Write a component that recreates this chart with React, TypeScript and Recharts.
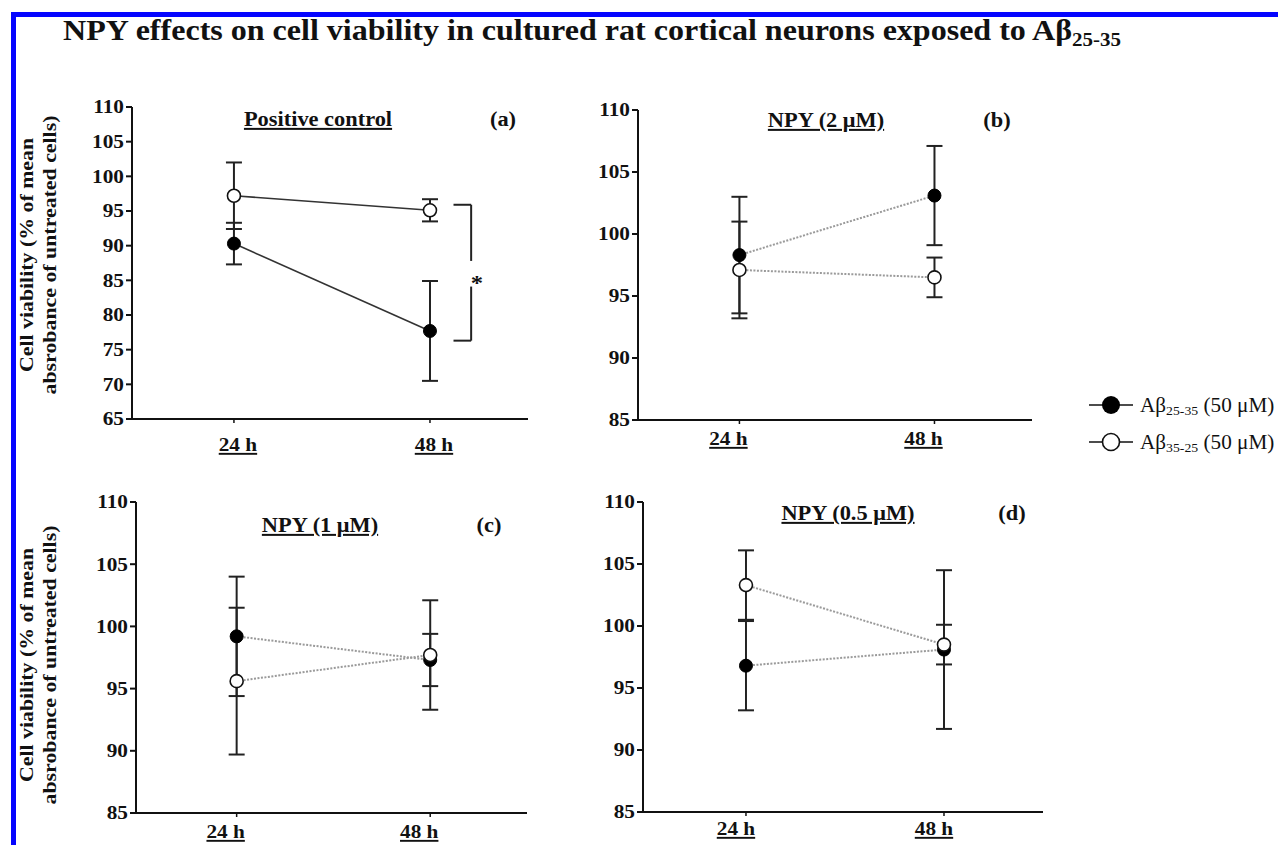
import React from "react"
import { LineChart, Line, XAxis, YAxis, ErrorBar, ReferenceLine } from "recharts"

// time points on the x axis
const TIMES = ["24 h", "48 h"]
const T_POS = [0, 1]

// (a) positive control
const POS_AB2535 = [90.3, 77.7]
const POS_AB2535_ERR = [3.0, 7.2]
const POS_AB3525 = [97.2, 95.1]
const POS_AB3525_ERR = [4.8, 1.6]

// (b) NPY 2 uM
const NPY2_AB2535 = [98.3, 103.1]
const NPY2_AB2535_ERR = [4.7, 4.0]
const NPY2_AB3525 = [97.1, 96.5]
const NPY2_AB3525_ERR = [3.9, 1.6]

// (c) NPY 1 uM
const NPY1_AB2535 = [99.2, 97.3]
const NPY1_AB2535_ERR = [4.8, 2.1]
const NPY1_AB3525 = [95.6, 97.7]
const NPY1_AB3525_ERR = [5.9, 4.4]

// (d) NPY 0.5 uM
const NPY05_AB2535 = [96.8, 98.1]
const NPY05_AB2535_ERR = [3.6, 6.4]
const NPY05_AB3525 = [103.3, 98.5]
const NPY05_AB3525_ERR = [2.8, 1.6]

const Y_TICKS_POS = [65, 70, 75, 80, 85, 90, 95, 100, 105, 110]
const Y_TICKS_NPY = [85, 90, 95, 100, 105, 110]

// significance bracket in (a), between the two 48 h means
const SIG_X = [1.12, 1.21]
const SIG_Y = [95.9, 76.3]
const SIG_GAP = [87.8, 84.1]

const FONT = '"Liberation Serif", "Times New Roman", serif'
const STRETCH = 1.12
const X_DOMAIN: [number, number] = [-0.52, 1.5]

function buildRows(filled: number[], filledErr: number[], open: number[], openErr: number[]) {
  return T_POS.map((t, i) => ({
    t,
    filled: filled[i],
    filledErr: filledErr[i],
    open: open[i],
    openErr: openErr[i],
  }))
}

function TimeTick(props: any) {
  const { x, y, payload, dx, dy } = props
  const label = TIMES[T_POS.indexOf(payload.value)]
  return (
    <text
      transform={`translate(${x + dx},${y + dy}) scale(${STRETCH},1)`}
      textAnchor="middle"
      fontFamily={FONT}
      fontWeight="bold"
      fontSize={19}
      fill="#111"
      textDecoration="underline"
    >
      {label}
    </text>
  )
}

function ValueTick(props: any) {
  const { x, y, payload } = props
  return (
    <text
      transform={`translate(${x},${y}) scale(${STRETCH},1)`}
      textAnchor="end"
      dy="0.34em"
      fontFamily={FONT}
      fontWeight="bold"
      fontSize={19}
      fill="#111"
    >
      {payload.value}
    </text>
  )
}

type Box = { left: number; top: number; w: number; h: number }

type PanelProps = {
  box: Box
  yDomain: [number, number]
  yTicks: number[]
  rows: ReturnType<typeof buildRows>
  solid: boolean
  labelDx: number
  labelDy: number
  children?: React.ReactNode
}

function Panel({ box, yDomain, yTicks, rows, solid, labelDx, labelDy, children }: PanelProps) {
  const lineStroke = solid ? "#333" : "#9a9a9a"
  const dash = solid ? undefined : "2 1.5"
  return (
    <div style={{ position: "absolute", left: box.left - 60, top: box.top - 20 }}>
      <LineChart
        width={box.w + 70}
        height={box.h + 70}
        data={rows}
        margin={{ top: 20, right: 10, bottom: 10, left: 0 }}
      >
        <XAxis
          dataKey="t"
          type="number"
          domain={X_DOMAIN}
          ticks={T_POS}
          interval={0}
          allowDataOverflow
          height={40}
          axisLine={{ stroke: "#111", strokeWidth: 2 }}
          tickLine={{ stroke: "#111", strokeWidth: 1.5 }}
          tickSize={4}
          tick={(p: any) => <TimeTick {...p} dx={labelDx} dy={labelDy} />}
        />
        <YAxis
          type="number"
          domain={yDomain}
          ticks={yTicks}
          interval={0}
          allowDataOverflow
          width={60}
          axisLine={{ stroke: "#111", strokeWidth: 2 }}
          tickLine={{ stroke: "#111", strokeWidth: 2 }}
          tickSize={6}
          tick={(p: any) => <ValueTick {...p} />}
        />
        {children}
        <Line
          dataKey="filled"
          type="linear"
          stroke={lineStroke}
          strokeWidth={solid ? 1.6 : 2}
          strokeDasharray={dash}
          dot={{ r: 6.5, fill: "#000", stroke: "#000", strokeWidth: 1, strokeDasharray: "none" }}
          activeDot={false}
          isAnimationActive={false}
        >
          <ErrorBar dataKey="filledErr" direction="y" width={8} stroke="#222" strokeWidth={2} />
        </Line>
        <Line
          dataKey="open"
          type="linear"
          stroke={lineStroke}
          strokeWidth={solid ? 1.6 : 2}
          strokeDasharray={dash}
          dot={{ r: 6.5, fill: "#fff", stroke: "#111", strokeWidth: 1.6, strokeDasharray: "none" }}
          activeDot={false}
          isAnimationActive={false}
        >
          <ErrorBar dataKey="openErr" direction="y" width={8} stroke="#222" strokeWidth={2} />
        </Line>
      </LineChart>
    </div>
  )
}

function Caption({ x, y, size = 20, bold = true, underline = false, children }: any) {
  return (
    <text
      transform={`translate(${x},${y}) scale(${STRETCH},1)`}
      textAnchor="middle"
      fontFamily={FONT}
      fontWeight={bold ? "bold" : "normal"}
      fontSize={size}
      fill="#111"
      textDecoration={underline ? "underline" : undefined}
    >
      {children}
    </text>
  )
}

function YLabel({ cy }: { cy: number }) {
  const lines = ["Cell viability (% of mean", "absrobance of untreated cells)"]
  const xs = [27, 50]
  return (
    <>
      {lines.map((l, i) => (
        <text
          key={l}
          transform={`translate(${xs[i]},${cy}) rotate(-90) scale(1.15,1)`}
          textAnchor="middle"
          dy="0.34em"
          fontFamily={FONT}
          fontWeight="bold"
          fontSize={19}
          fill="#111"
        >
          {l}
        </text>
      ))}
    </>
  )
}

function LegendRow({ y, filled, sub }: { y: number; filled: boolean; sub: string }) {
  return (
    <>
      <line x1={1089} y1={y} x2={1133} y2={y} stroke="#111" strokeWidth={1.5} />
      <circle
        cx={1111}
        cy={y}
        r={filled ? 9 : 8.5}
        fill={filled ? "#000" : "#fff"}
        stroke="#111"
        strokeWidth={filled ? 0 : 1.6}
      />
      <text
        transform={`translate(1140,${y + 7}) scale(1.06,1)`}
        fontFamily={FONT}
        fontSize={20}
        fill="#111"
      >
        Aβ<tspan fontSize={13} dy={3}>{sub}</tspan>
        <tspan dy={-3}> (50 μM)</tspan>
      </text>
    </>
  )
}

const BOX_A: Box = { left: 132, top: 107, w: 396, h: 312 }
const BOX_B: Box = { left: 638, top: 110, w: 394, h: 310 }
const BOX_C: Box = { left: 136, top: 502, w: 391, h: 311 }
const BOX_D: Box = { left: 643, top: 502, w: 400, h: 310 }

export default function App() {
  const rowsA = buildRows(POS_AB2535, POS_AB2535_ERR, POS_AB3525, POS_AB3525_ERR)
  const rowsB = buildRows(NPY2_AB2535, NPY2_AB2535_ERR, NPY2_AB3525, NPY2_AB3525_ERR)
  const rowsC = buildRows(NPY1_AB2535, NPY1_AB2535_ERR, NPY1_AB3525, NPY1_AB3525_ERR)
  const rowsD = buildRows(NPY05_AB2535, NPY05_AB2535_ERR, NPY05_AB3525, NPY05_AB3525_ERR)
  const sig = { stroke: "#222", strokeWidth: 2 }

  return (
    <div
      style={{
        position: "absolute",
        left: 0,
        top: 0,
        width: 1278,
        height: 845,
        background: "#fff",
        overflow: "hidden",
      }}
    >
      <Panel box={BOX_A} yDomain={[65, 110]} yTicks={Y_TICKS_POS} rows={rowsA} solid labelDx={4} labelDy={26}>
        <ReferenceLine segment={[{ x: SIG_X[0], y: SIG_Y[0] }, { x: SIG_X[1], y: SIG_Y[0] }]} {...sig} />
        <ReferenceLine segment={[{ x: SIG_X[1], y: SIG_Y[0] }, { x: SIG_X[1], y: SIG_GAP[0] }]} {...sig} />
        <ReferenceLine segment={[{ x: SIG_X[1], y: SIG_GAP[1] }, { x: SIG_X[1], y: SIG_Y[1] }]} {...sig} />
        <ReferenceLine segment={[{ x: SIG_X[0], y: SIG_Y[1] }, { x: SIG_X[1], y: SIG_Y[1] }]} {...sig} />
      </Panel>
      <Panel box={BOX_B} yDomain={[85, 110]} yTicks={Y_TICKS_NPY} rows={rowsB} solid={false} labelDx={-11} labelDy={19} />
      <Panel box={BOX_C} yDomain={[85, 110]} yTicks={Y_TICKS_NPY} rows={rowsC} solid={false} labelDx={-11} labelDy={19} />
      <Panel box={BOX_D} yDomain={[85, 110]} yTicks={Y_TICKS_NPY} rows={rowsD} solid={false} labelDx={-10} labelDy={17} />

      <svg width={1278} height={845} style={{ position: "absolute", left: 0, top: 0, pointerEvents: "none" }}>
        {/* blue frame */}
        <rect x={11} y={12} width={1267} height={5} fill="#0505ff" />
        <rect x={11} y={12} width={5} height={833} fill="#0505ff" />

        <text
          transform="translate(63,40) scale(1.105,1)"
          fontFamily={FONT}
          fontWeight="bold"
          fontSize={29}
          fill="#111"
        >
          NPY effects on cell viability in cultured rat cortical neurons exposed to Aβ
          <tspan fontSize={19} dy={6}>25-35</tspan>
        </text>

        <YLabel cy={255} />
        <YLabel cy={665} />

        <Caption x={318} y={126} underline>Positive control</Caption>
        <Caption x={503} y={126}>(a)</Caption>
        <Caption x={826} y={127} underline>NPY (2 μM)</Caption>
        <Caption x={997} y={127}>(b)</Caption>
        <Caption x={320} y={532} underline>NPY (1 μM)</Caption>
        <Caption x={489} y={532}>(c)</Caption>
        <Caption x={848} y={520} underline>NPY (0.5 μM)</Caption>
        <Caption x={1012} y={520}>(d)</Caption>

        <Caption x={477} y={290} size={22}>*</Caption>

        {/* legend */}
        <LegendRow y={405} filled sub="25-35" />
        <LegendRow y={442} filled={false} sub="35-25" />
      </svg>
    </div>
  )
}
